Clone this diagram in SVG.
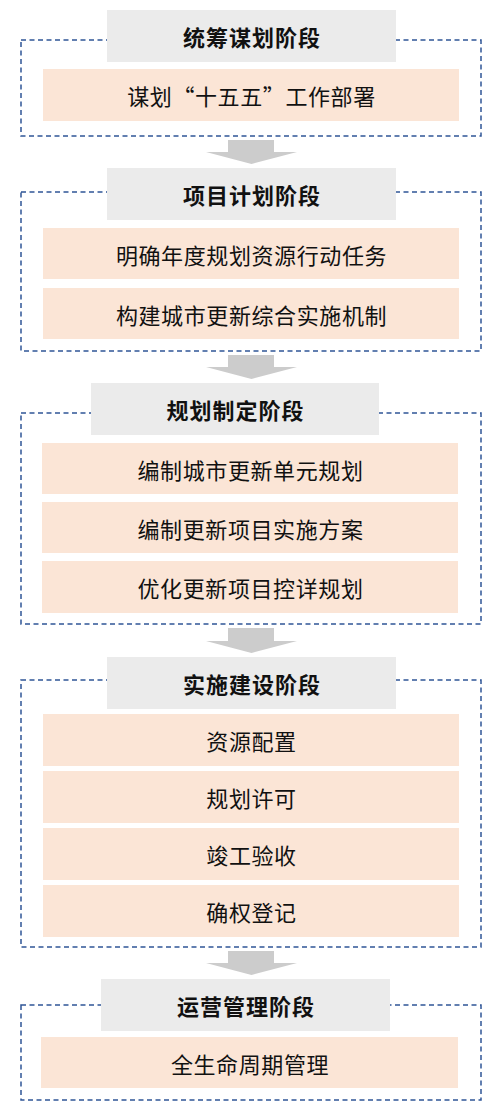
<svg xmlns="http://www.w3.org/2000/svg" width="500" height="1116" viewBox="0 0 500 1116">
<style>
.frame{fill:none;stroke:#2f5597;stroke-width:1.5;stroke-dasharray:5 3.5}
.title{fill:#ebebeb}
.item{fill:#fbe5d6}
.arrow{fill:#cccccc}
.tt{font-family:"Noto Sans CJK SC","Noto Sans",sans-serif;font-size:22px;font-weight:bold;fill:#111111;text-anchor:middle;letter-spacing:1px}
.it{font-family:"Noto Sans CJK SC","Noto Sans",sans-serif;font-size:22px;fill:#111111;text-anchor:middle;letter-spacing:0.6px}
</style>
<rect width="500" height="1116" fill="#ffffff"/>
<g id="connectors">
<polygon class="arrow" points="228,140 274,140 274,152 297,152 251.5,164 206,152 228,152"/>
<polygon class="arrow" points="228,355 274,355 274,367 297,367 251.5,379 206,367 228,367"/>
<polygon class="arrow" points="228,628 274,628 274,641 297,641 251.5,653 206,641 228,641"/>
<polygon class="arrow" points="228,951 274,951 274,963 297,963 251.5,975 206,963 228,963"/>
</g>
<g id="stage1">
<rect class="frame" x="21" y="40" width="460" height="96"/>
<rect class="title" x="107" y="10" width="289" height="52"/>
<text class="tt" x="252" y="45.5">统筹谋划阶段</text>
</g>
<g id="item1-1"><rect class="item" x="43" y="69" width="416" height="52"/><text class="it" x="251.5" y="105">谋划“十五五”工作部署</text></g>
<g id="stage2">
<rect class="frame" x="21" y="192" width="460" height="159"/>
<rect class="title" x="107" y="168" width="289" height="52"/>
<text class="tt" x="252" y="203.5">项目计划阶段</text>
</g>
<g id="item2-1"><rect class="item" x="43" y="228" width="416" height="51"/><text class="it" x="251.5" y="263.5">明确年度规划资源行动任务</text></g>
<g id="item2-2"><rect class="item" x="43" y="288" width="416" height="51"/><text class="it" x="251.5" y="323.5">构建城市更新综合实施机制</text></g>
<g id="stage3">
<rect class="frame" x="21" y="413" width="460" height="211"/>
<rect class="title" x="91" y="383" width="288" height="52"/>
<text class="tt" x="235.5" y="418.5">规划制定阶段</text>
</g>
<g id="item3-1"><rect class="item" x="42" y="443" width="416" height="51"/><text class="it" x="250.5" y="478.5">编制城市更新单元规划</text></g>
<g id="item3-2"><rect class="item" x="42" y="502" width="416" height="51"/><text class="it" x="250.5" y="537.5">编制更新项目实施方案</text></g>
<g id="item3-3"><rect class="item" x="42" y="561" width="416" height="52"/><text class="it" x="250.5" y="597">优化更新项目控详规划</text></g>
<g id="stage4">
<rect class="frame" x="21" y="680" width="460" height="267"/>
<rect class="title" x="107" y="657" width="289" height="52"/>
<text class="tt" x="252" y="692.5">实施建设阶段</text>
</g>
<g id="item4-1"><rect class="item" x="43" y="714" width="416" height="52"/><text class="it" x="251.5" y="750">资源配置</text></g>
<g id="item4-2"><rect class="item" x="43" y="771" width="416" height="52"/><text class="it" x="251.5" y="807">规划许可</text></g>
<g id="item4-3"><rect class="item" x="43" y="828" width="416" height="52"/><text class="it" x="251.5" y="864">竣工验收</text></g>
<g id="item4-4"><rect class="item" x="43" y="885" width="416" height="52"/><text class="it" x="251.5" y="921">确权登记</text></g>
<g id="stage5">
<rect class="frame" x="21" y="1005" width="460" height="95"/>
<rect class="title" x="101" y="979" width="289" height="52"/>
<text class="tt" x="246" y="1014.5">运营管理阶段</text>
</g>
<g id="item5-1"><rect class="item" x="41" y="1037" width="417" height="51"/><text class="it" x="250" y="1072.5">全生命周期管理</text></g>
</svg>
